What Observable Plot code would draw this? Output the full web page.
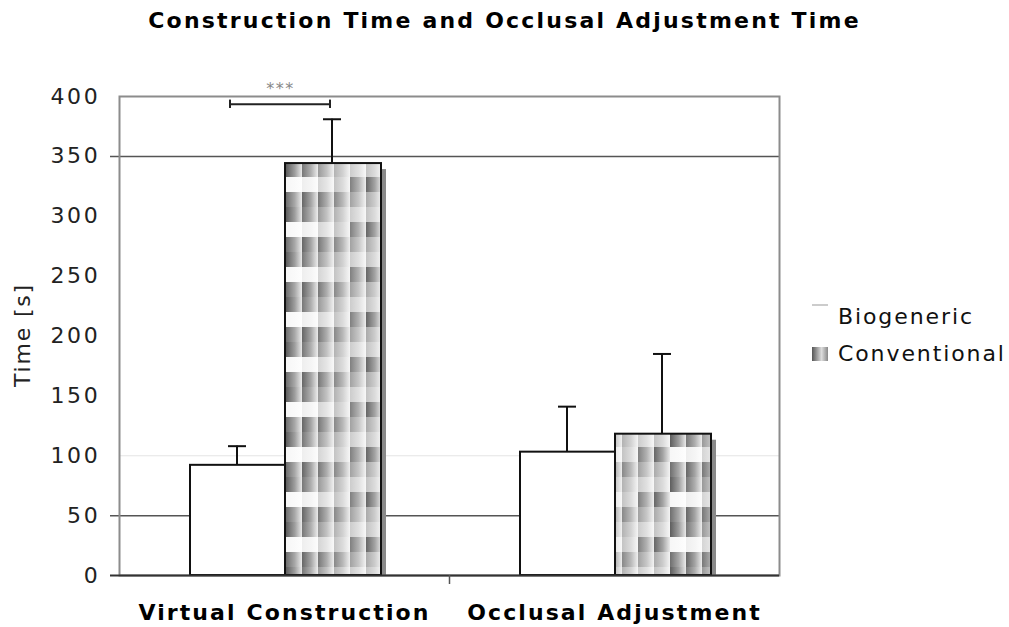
<!DOCTYPE html>
<html><head><meta charset="utf-8">
<script src="https://cdn.jsdelivr.net/npm/d3@7"></script>
<script src="https://cdn.jsdelivr.net/npm/@observablehq/plot@0.6"></script>
<style>
body{margin:0;background:#fff;font-family:"DejaVu Sans",sans-serif;}
#wrap{position:relative;width:1009px;height:627px;overflow:hidden;}
#title{position:absolute;left:0;width:1009px;top:8px;text-align:center;font-weight:bold;font-size:22px;letter-spacing:2.2px;color:#000;white-space:nowrap;}
.leg{position:absolute;left:812px;font-size:22px;letter-spacing:1.9px;color:#111;white-space:nowrap;display:flex;align-items:center;}
.leg span.sw{display:inline-block;width:16px;height:14px;margin-right:10px;}
#ylab{position:absolute;left:22px;top:335px;transform:translate(-50%,-50%) rotate(-90deg);font-size:22px;letter-spacing:1.8px;color:#222;white-space:nowrap;}
</style></head>
<body><div id="wrap">
<div id="title">Construction Time and Occlusal Adjustment Time</div>
<div id="ylab">Time [s]</div>
<div class="leg" id="leg0" style="top:304px"><span class="sw" style="height:0;border-top:2px solid #ccc;position:relative;top:-12px"></span><span>Biogeneric</span></div>
<div class="leg" id="leg1" style="top:341px"><span class="sw" style="background:linear-gradient(90deg,#555,#ddd 60%,#888);"></span><span>Conventional</span></div>
</div>
<script>
const categories = ["Virtual Construction", "Occlusal Adjustment"];
const series = ["Biogeneric", "Conventional"];
const biogenericMean = [92, 103];
const biogenericUpper = [108, 141];
const conventionalMean = [344, 118];
const conventionalUpper = [381, 185];
const yTicks = [0, 50, 100, 150, 200, 250, 300, 350, 400];
const darkGrid = [50, 350];
const faintGrid = [100];
const significance = [{category: "Virtual Construction", y: 393.5, label: "***"}];

const bio = categories.map((c, i) => ({category: c, series: series[0], mean: biogenericMean[i], upper: biogenericUpper[i]}));
const conv = categories.map((c, i) => ({category: c, series: series[1], mean: conventionalMean[i], upper: conventionalUpper[i]}));

const plot = Plot.plot({
  width: 1009, height: 627,
  marginLeft: 119, marginRight: 230, marginTop: 96, marginBottom: 52,
  style: {fontFamily: "DejaVu Sans", background: "#fff", overflow: "visible"},
  x: {domain: categories, padding: 0, label: null},
  y: {domain: [0, 400], label: null},
  marks: [
    Plot.ruleY(faintGrid, {stroke: "#e4e4e4", strokeWidth: 1.2}),
    Plot.ruleY(darkGrid, {stroke: "#555", strokeWidth: 1.5, insetLeft: -9}),
    Plot.frame({stroke: "#8c8c8c", strokeWidth: 2}),
    // shadow
    Plot.barY(conv, {x: "category", y: "mean", fill: "#8a8a8a", insetLeft: 166, insetRight: 68, dx: 5, dy: 6, clip: "frame"}),
    Plot.barY(bio, {x: "category", y: "mean", fill: "#fff", stroke: "#111", strokeWidth: 2, insetLeft: 71, insetRight: 164}),
    Plot.barY(conv, {x: "category", y: "mean", fill: "url(#convpat)", stroke: "#111", strokeWidth: 2, insetLeft: 166, insetRight: 68}),
    // error stems
    Plot.barY(bio, {x: "category", y1: "mean", y2: "upper", fill: "#111", insetLeft: 117, insetRight: 211}),
    Plot.barY(conv, {x: "category", y1: "mean", y2: "upper", fill: "#111", insetLeft: 212, insetRight: 116}),
    Plot.tickY(bio, {x: "category", y: "upper", stroke: "#111", strokeWidth: 2, insetLeft: 109, insetRight: 203}),
    Plot.tickY(conv, {x: "category", y: "upper", stroke: "#111", strokeWidth: 2, insetLeft: 204, insetRight: 108}),
    // significance bracket
    Plot.tickY(significance, {x: "category", y: "y", stroke: "#222", strokeWidth: 2, insetLeft: 111, insetRight: 119}),
    Plot.barY(significance, {x: "category", y1: d => d.y - 3.5, y2: d => d.y + 3.5, fill: "#222", insetLeft: 110, insetRight: 218}),
    Plot.barY(significance, {x: "category", y1: d => d.y - 3.5, y2: d => d.y + 3.5, fill: "#222", insetLeft: 210, insetRight: 118}),
    Plot.text(significance, {x: "category", y: 406, text: "label", dx: -4, fill: "#888", fontSize: 16}),
    // baseline and category divider
    Plot.ruleY([0], {stroke: "#333", strokeWidth: 2, insetLeft: -9}),
    Plot.ruleX([categories[1]], {y1: 0, y2: 0, dx: -165, stroke: "#555", strokeWidth: 1.5, insetBottom: -9}),
    Plot.axisY({ticks: yTicks, tickSize: 0, tickPadding: 19, fontSize: 22, label: null, fill: "#222"}),
    Plot.axisX({tickSize: 0, tickPadding: 29, fontSize: 22, fontWeight: "bold", fill: "#000"})
  ]
});

// letter spacing for axis texts (the reference glyphs are horizontally stretched)
plot.querySelectorAll('[aria-label="y-axis tick label"] text').forEach(t => t.style.letterSpacing = "2.7px");
plot.querySelectorAll('[aria-label="x-axis tick label"] text').forEach(t => t.style.letterSpacing = "2.1px");
plot.querySelectorAll('[aria-label="text"] text').forEach(t => t.style.letterSpacing = "1.5px");

// pattern defs
const svgNS = "http://www.w3.org/2000/svg";
const defs = document.createElementNS(svgNS, "defs");
const cellW = 16, cellH = 15;
const patternRows = [
  [0.95, 0.8, 0.6, 0.45, 0.3, 0.35],
  [0.05, 0.1, 0.25, 0.35, 0.75, 0.9],
  [0.85, 0.9, 0.8, 0.7, 0.55, 0.5]
];
let html = `<linearGradient id="cellgrad" x1="0" x2="1" y1="0" y2="0"><stop offset="0" stop-color="#555"/><stop offset="0.55" stop-color="#999"/><stop offset="1" stop-color="#e8e8e8"/></linearGradient>`;
html += `<pattern id="convpat" patternUnits="userSpaceOnUse" x="286" y="162" width="${cellW * 6}" height="${cellH * patternRows.length}"><rect width="${cellW * 6}" height="${cellH * patternRows.length}" fill="#fff"/>`;
patternRows.forEach((row, r) => row.forEach((v, c) => {
  html += `<rect x="${c * cellW}" y="${r * cellH}" width="${cellW}" height="${cellH}" fill="url(#cellgrad)" opacity="${v}"/>`;
}));
html += `</pattern>`;
defs.innerHTML = html;
plot.insertBefore(defs, plot.firstChild);
plot.style.position = "absolute";
plot.style.left = "0"; plot.style.top = "0";
document.getElementById("wrap").insertBefore(plot, document.getElementById("wrap").firstChild);
</script>
</body></html>
